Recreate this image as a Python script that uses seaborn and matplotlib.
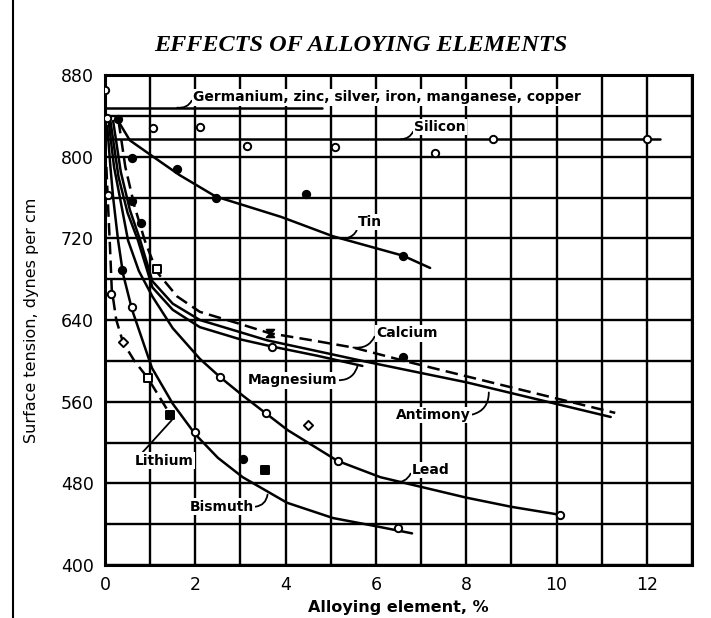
import matplotlib
matplotlib.use("Agg")
import matplotlib.pyplot as plt
from matplotlib.lines import Line2D
from matplotlib.path import Path
import pandas as pd
import seaborn as sns

# ---- curves: alloy content (%) vs surface tension (dynes/cm) ----
germanium_x = [0.0, 4.8]
germanium_y = [848, 848]

silicon_x = [0.0, 12.3]
silicon_y = [817, 817]

tin_x = [0.25, 0.55, 1.0, 1.65, 2.45, 3.9, 5.05, 6.6, 7.2]
tin_y = [838, 816, 802, 782, 761, 741, 722, 703, 691]

calcium_x = [0.3, 0.45, 0.65, 0.88, 1.15, 1.6, 2.1, 3.0, 3.65, 4.6, 5.5, 6.8, 9.0, 11.3]
calcium_y = [835, 790, 752, 718, 687, 663, 648, 636, 627, 620, 613, 598, 574, 549]

antimony_x = [0.18, 0.35, 0.55, 0.78, 1.05, 1.5, 2.1, 3.6, 5.8, 8.0, 11.2]
antimony_y = [835, 785, 748, 718, 678, 656, 640, 620, 599, 579, 545]

magnesium_x = [0.12, 0.3, 0.5, 0.73, 1.05, 1.5, 2.1, 3.0, 3.7, 4.7, 5.7]
magnesium_y = [835, 780, 745, 718, 672, 650, 633, 621, 614, 605, 595]

lead_x = [0.08, 0.2, 0.33, 0.51, 0.75, 1.05, 1.5, 2.1, 2.55, 3.05, 3.55, 4.05,
          5.15, 6.1, 7.05, 8.0, 9.0, 10.1]
lead_y = [835, 790, 760, 718, 688, 663, 632, 602, 584, 566, 549, 532,
          502, 486, 476, 466, 457, 449]

bismuth_x = [0.05, 0.12, 0.18, 0.29, 0.4, 0.6, 1.04, 1.5, 2.0, 2.5, 3.05,
             4.03, 5.05, 6.0, 6.8]
bismuth_y = [830, 790, 760, 718, 685, 650, 593, 558, 528, 505, 486,
             461, 446, 438, 431]

lithium_x = [0.03, 0.07, 0.11, 0.15, 0.25, 0.4, 0.65, 0.95, 1.2, 1.45]
lithium_y = [790, 750, 712, 670, 640, 618, 600, 583, 565, 547]

# ---- measured points ----
open_circle_x = [0.0, 0.05, 0.07, 1.06, 2.1, 3.14, 5.09, 7.3, 8.6, 12.0,
                 0.13, 0.6, 2.0, 6.5, 2.54, 3.56, 5.15, 10.07, 3.7]
open_circle_y = [865, 838, 762, 828, 829, 810, 809, 804, 817, 817,
                 665, 653, 530, 436, 584, 549, 502, 449, 614]

filled_circle_x = [0.29, 0.6, 1.6, 2.46, 4.45, 6.6, 0.37, 0.6, 0.8, 6.6, 3.05]
filled_circle_y = [837, 799, 788, 760, 763, 703, 689, 757, 735, 604, 504]

open_square_x = [1.15, 0.95]
open_square_y = [690, 583]

filled_square_x = [1.44, 3.54]
filled_square_y = [547, 493]

diamond_x = [0.4, 4.5]
diamond_y = [618, 537]

hourglass_x = [3.65]
hourglass_y = [627]

# ---- axis text ----
title = "EFFECTS OF ALLOYING ELEMENTS"
x_label = "Alloying element, %"
y_label = "Surface tension, dynes per cm"
x_ticks = list(range(0, 14))
x_tick_labels = [str(t) if t % 2 == 0 and t <= 12 else "" for t in x_ticks]
y_ticks = list(range(400, 881, 40))
y_tick_labels = [str(t) if t % 80 == 0 else "" for t in y_ticks]

sns.set_style("white")
plt.rcParams["font.family"] = ["DejaVu Sans"]
plt.rcParams["text.color"] = "black"
plt.rcParams["axes.labelcolor"] = "black"
plt.rcParams["xtick.color"] = "black"
plt.rcParams["ytick.color"] = "black"

fig = plt.figure(figsize=(7.11, 6.18), dpi=100)
ax = fig.add_axes([105 / 711, 1 - 565 / 618, (692 - 105) / 711, (565 - 75) / 618])

curves = [
    (germanium_x, germanium_y, "-"),
    (silicon_x, silicon_y, "-"),
    (tin_x, tin_y, "-"),
    (calcium_x, calcium_y, "--"),
    (antimony_x, antimony_y, "-"),
    (magnesium_x, magnesium_y, "-"),
    (lead_x, lead_y, "-"),
    (bismuth_x, bismuth_y, "-"),
    (lithium_x, lithium_y, "--"),
]
for xs, ys, ls in curves:
    df = pd.DataFrame({"pct": xs, "tension": ys})
    sns.lineplot(data=df, x="pct", y="tension", sort=False, estimator=None,
                 color="black", lw=1.8, ax=ax, zorder=3)
    if ls == "--":
        ax.lines[-1].set_dashes((5, 2.5))

# hourglass-shaped marker (two triangles meeting at a point)
hourglass = Path([(-1, 1), (1, 1), (-1, -1), (1, -1), (-1, 1)],
                 [Path.MOVETO, Path.LINETO, Path.LINETO, Path.LINETO, Path.CLOSEPOLY])

point_sets = [
    (open_circle_x, open_circle_y, "o", "white", 28),
    (filled_circle_x, filled_circle_y, "o", "black", 28),
    (open_square_x, open_square_y, "s", "white", 28),
    (filled_square_x, filled_square_y, "s", "black", 28),
    (diamond_x, diamond_y, "D", "white", 22),
    (hourglass_x, hourglass_y, hourglass, "black", 30),
]
for xs, ys, m, fc, size in point_sets:
    pts = pd.DataFrame({"pct": xs, "tension": ys})
    sns.scatterplot(data=pts, x="pct", y="tension", marker=m, s=size,
                    facecolor=fc, edgecolor="black", linewidth=1.4,
                    ax=ax, zorder=4)

ax.set_xlim(0, 13)
ax.set_ylim(400, 880)
ax.set_xticks(x_ticks)
ax.set_xticklabels(x_tick_labels)
ax.set_yticks(y_ticks)
ax.set_yticklabels(y_tick_labels)
ax.grid(True, color="black", lw=1.7)
ax.set_axisbelow(True)
ax.tick_params(length=0, labelsize=12.5, pad=8, colors="black")
for sp in ax.spines.values():
    sp.set_color("black")
    sp.set_linewidth(2.2)
ax.set_xlabel(x_label, fontsize=11.5, fontweight="bold", labelpad=4, color="black")
ax.set_ylabel(y_label, fontsize=11.5, labelpad=16, color="black")

fig.text(0.507, 0.927, title, ha="center", va="center", fontsize=17.5,
         family="Liberation Serif", style="italic", fontweight="bold", color="black")

# curve names with short hooked leaders
label_kw = dict(fontsize=10, fontweight="bold", color="black",
                bbox=dict(boxstyle="square,pad=0.1", fc="white", ec="none"))
notes = [
    ("Germanium, zinc, silver, iron, manganese, copper", (1.95, 858), (1.6, 848), "left", -0.4),
    ("Silicon", (6.85, 829), (6.55, 817), "left", -0.4),
    ("Tin", (5.6, 736), (5.35, 720), "left", -0.4),
    ("Calcium", (6.0, 627), (5.5, 613), "left", -0.4),
    ("Magnesium", (5.15, 581), (5.6, 596), "right", 0.4),
    ("Antimony", (8.1, 547), (8.5, 569), "right", 0.4),
    ("Lead", (6.8, 493), (6.4, 481), "left", -0.4),
    ("Lithium", (0.66, 502), (1.48, 542), "left", 0.0),
    ("Bismuth", (3.3, 457), (3.6, 469), "right", 0.4),
]
for text, (tx, ty), (px, py), ha, rad in notes:
    rel = (0.0, 0.5) if ha == "left" else (1.0, 0.5)
    ax.annotate(text, xy=(px, py), xytext=(tx, ty), ha=ha, va="center",
                arrowprops=dict(arrowstyle="-", color="black", lw=1.3,
                                connectionstyle=f"arc3,rad={rad}",
                                relpos=rel, shrinkA=0, shrinkB=0),
                zorder=5, **label_kw)

# outer frame line along the left edge of the page
fig.add_artist(Line2D([13 / 711, 13 / 711], [0.0, 1.0], color="black", lw=1.5,
                      transform=fig.transFigure))

fig.savefig("out.png", dpi=100, facecolor="white")
